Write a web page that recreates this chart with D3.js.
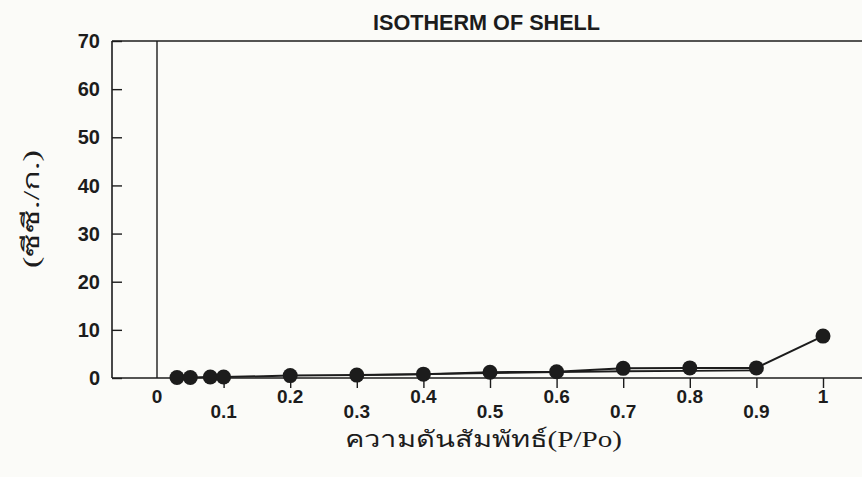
<!DOCTYPE html>
<html><head><meta charset="utf-8">
<script src="https://cdn.jsdelivr.net/npm/d3@7"></script>
<style>body{margin:0;background:#fbfbf8;}svg{display:block;}</style>
</head><body>
<svg id="c" width="862" height="477"></svg>
<script>
const title = "ISOTHERM OF SHELL";
const xTitle = "ความดันสัมพัทธ์(P/Po)";
const yTitle = "(ซีซี./ก.)";
const adsX = [0.03, 0.05, 0.08, 0.1, 0.2, 0.3, 0.4, 0.5, 0.6, 0.7, 0.8, 0.9, 1.0];
const adsY = [0.1, 0.1, 0.2, 0.2, 0.5, 0.6, 0.8, 1.2, 1.3, 2.0, 2.1, 2.1, 8.7];
const desX = [0.9, 0.8, 0.7, 0.6, 0.5, 0.4, 0.3];
const desY = [1.6, 1.5, 1.4, 1.2, 1.0, 0.8, 0.6];
const xTicks = [0, 0.1, 0.2, 0.3, 0.4, 0.5, 0.6, 0.7, 0.8, 0.9, 1];
const xTickLabels = ["0", "0.1", "0.2", "0.3", "0.4", "0.5", "0.6", "0.7", "0.8", "0.9", "1"];
const yTicks = [0, 10, 20, 30, 40, 50, 60, 70];

(function () {
const svg = d3.select("#c");
const pLeft = 112, pTop = 41, pBottom = 378, pRight = 862;
const x = d3.scaleLinear().domain([0, 1]).range([157, 823]);
const y = d3.scaleLinear().domain([0, 70]).range([pBottom, pTop]);
const ink = "#1c1c1c";
const sans = "Liberation Sans, Arial, sans-serif";

svg.append("line").attr("x1", pLeft).attr("x2", pLeft).attr("y1", pTop).attr("y2", pBottom).attr("stroke", ink).attr("stroke-width", 1.6);
svg.append("line").attr("x1", pLeft).attr("x2", pRight).attr("y1", pTop).attr("y2", pTop).attr("stroke", ink).attr("stroke-width", 1.6);
svg.append("line").attr("x1", pLeft).attr("x2", pRight).attr("y1", pBottom).attr("y2", pBottom).attr("stroke", ink).attr("stroke-width", 1.6);
svg.append("line").attr("x1", x(0)).attr("x2", x(0)).attr("y1", pTop).attr("y2", pBottom).attr("stroke", ink).attr("stroke-width", 1.4);

const yAxis = d3.axisRight(y).tickValues(yTicks).tickSize(10).tickFormat("");
const ya = svg.append("g").attr("transform", `translate(${pLeft},0)`).call(yAxis);
ya.select(".domain").remove();
ya.selectAll("line").attr("stroke", ink).attr("stroke-width", 1.4);
svg.append("g").selectAll("text").data(yTicks).join("text")
  .attr("x", 100).attr("y", d => y(d)).attr("dy", "0.36em")
  .attr("text-anchor", "end").attr("font-family", sans)
  .attr("font-weight", "bold").attr("font-size", 20).attr("fill", ink).text(d => d);

const xAxis = d3.axisBottom(x).tickValues(xTicks.slice(1)).tickSize(10).tickFormat("");
const xa = svg.append("g").attr("transform", `translate(0,${pBottom})`).call(xAxis);
xa.select(".domain").remove();
xa.selectAll("line").attr("stroke", ink).attr("stroke-width", 1.4);
svg.append("g").selectAll("text").data(xTicks).join("text")
  .attr("x", d => x(d)).attr("y", (d, i) => i % 2 === 0 ? 396 : 411).attr("dy", "0.36em")
  .attr("text-anchor", "middle").attr("font-family", sans)
  .attr("font-weight", "bold").attr("font-size", 19).attr("fill", ink).text((d, i) => xTickLabels[i]);

const line = d3.line().x(d => x(d[0])).y(d => y(d[1]));
svg.append("path").datum(desX.map((v, i) => [v, desY[i]])).attr("d", line)
  .attr("fill", "none").attr("stroke", ink).attr("stroke-width", 1.8);
svg.append("path").datum(adsX.map((v, i) => [v, adsY[i]])).attr("d", line)
  .attr("fill", "none").attr("stroke", ink).attr("stroke-width", 2);
svg.append("g").selectAll("circle").data(adsX.map((v, i) => [v, adsY[i]])).join("circle")
  .attr("cx", d => x(d[0])).attr("cy", d => y(d[1])).attr("r", 7.5).attr("fill", ink);

svg.append("text").attr("x", 373).attr("y", 30)
  .attr("textLength", 227).attr("lengthAdjust", "spacingAndGlyphs")
  .attr("font-family", sans).attr("font-weight", "bold")
  .attr("font-size", 22).attr("fill", ink).text(title);
svg.append("text").attr("x", 345).attr("y", 447)
  .attr("textLength", 277).attr("lengthAdjust", "spacingAndGlyphs")
  .attr("font-family", "Liberation Serif, serif").attr("font-size", 23).attr("fill", ink).text(xTitle);
svg.append("text").attr("transform", "translate(39,268) rotate(-90)")
  .attr("textLength", 118).attr("lengthAdjust", "spacingAndGlyphs")
  .attr("font-family", "Liberation Serif, serif").attr("font-size", 23).attr("fill", ink).text(yTitle);
})();
</script>
</body></html>
